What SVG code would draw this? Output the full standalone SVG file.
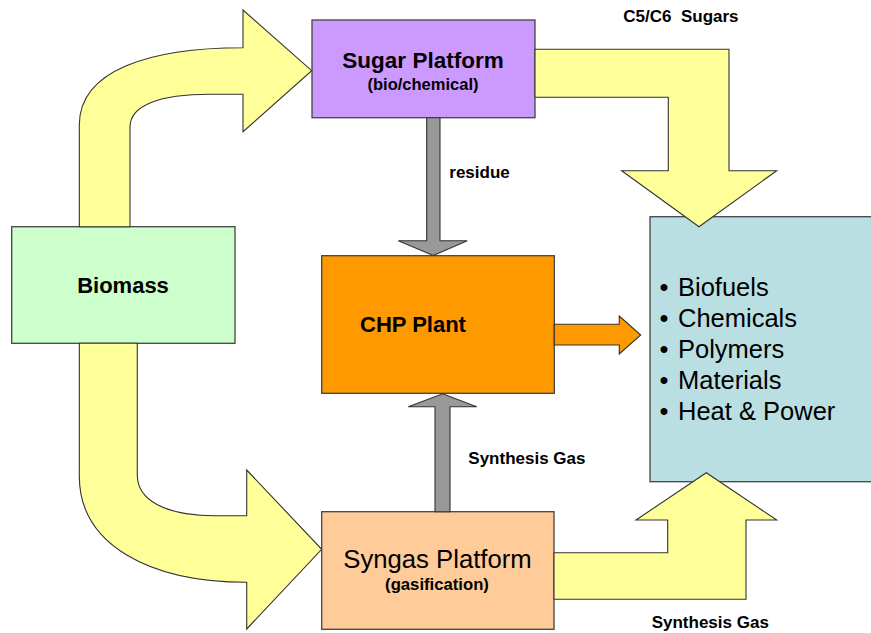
<svg xmlns="http://www.w3.org/2000/svg" width="871" height="633" viewBox="0 0 871 633">
  <style>
    .box { stroke: #444; stroke-width: 1.3; }
    .flow { fill: #FFFF99; stroke: #333; stroke-width: 1.1; stroke-linejoin: miter; }
    .side { fill: #999999; stroke: #333; stroke-width: 1.1; }
    .heat { fill: #FF9900; stroke: #333; stroke-width: 1.1; }
    text { font-family: "Liberation Sans", Arial, sans-serif; fill: #000; }
    .b { font-weight: bold; }
    .lbl { font-weight: bold; font-size: 17px; }
    .item { font-size: 25.5px; }
  </style>

  <rect width="871" height="633" fill="#FFFFFF"/>

  <!-- process nodes -->
  <g id="biomass">
    <rect class="box" x="11.7" y="226.7" width="223.3" height="116.6" fill="#CCFFCC"/>
    <text class="b" x="123" y="293.3" font-size="22" text-anchor="middle">Biomass</text>
  </g>

  <g id="sugar-platform">
    <rect class="box" x="312" y="20" width="223" height="97.7" fill="#CC99FF"/>
    <text class="b" x="423" y="68" font-size="22.5" text-anchor="middle">Sugar Platform</text>
    <text class="b" x="423" y="90" font-size="16.5" text-anchor="middle">(bio/chemical)</text>
  </g>

  <g id="chp-plant">
    <rect class="box" x="321.7" y="255.7" width="232.6" height="137.6" fill="#FF9900"/>
    <text class="b" x="360" y="332.3" font-size="22">CHP Plant</text>
  </g>

  <g id="syngas-platform">
    <rect class="box" x="321.7" y="511.7" width="232.3" height="117.6" fill="#FFCC99"/>
    <text x="437.5" y="568.3" font-size="25.7" text-anchor="middle">Syngas Platform</text>
    <text class="b" x="437" y="590" font-size="16.7" text-anchor="middle">(gasification)</text>
  </g>

  <g id="products">
    <rect class="box" x="650" y="216.7" width="224" height="265" fill="#BADFE2"/>
    <text class="item" x="659.5" y="295.5">•</text>
    <text class="item" x="678" y="295.5">Biofuels</text>
    <text class="item" x="659.5" y="326.7">•</text>
    <text class="item" x="678" y="326.7">Chemicals</text>
    <text class="item" x="659.5" y="357.7">•</text>
    <text class="item" x="678" y="357.7">Polymers</text>
    <text class="item" x="659.5" y="388.6">•</text>
    <text class="item" x="678" y="388.6">Materials</text>
    <text class="item" x="659.5" y="420">•</text>
    <text class="item" x="678" y="420">Heat &amp; Power</text>
  </g>

  <!-- connectors: block arrows between the nodes -->
  <g id="connectors">
    <!-- biomass to sugar platform -->
    <path class="flow" d="M79.3,226.7 V125 C79.3,70 150,47.7 243,47.7 V10 L311.7,70.7 L243,131.7 V94.3 H210 C160,94.3 130,105 130,127 V226.7 Z"/>
    <!-- biomass to syngas platform -->
    <path class="flow" d="M79.3,343.3 V476 C79.3,545 150,582.3 246.7,582.3 V629 L321.7,549.3 L246.7,470 V515.7 H215 C165,515.7 137.3,500 137.3,475 V343.3 Z"/>
    <!-- sugars to products -->
    <path class="flow" d="M535,49.3 H729 V170.7 H776.7 L699,226.7 L621.7,170.7 H668.3 V97.3 H535 Z"/>
    <!-- synthesis gas to products -->
    <path class="flow" d="M554,552.7 H667.7 V520 H636 L706.3,472.7 L776.7,520 H746 V599.3 H554 Z"/>
    <!-- residue to CHP -->
    <path class="side" d="M426.7,117.7 V240.7 H398.3 L433.3,255.5 L467.3,240.7 H440 V117.7 Z"/>
    <!-- synthesis gas to CHP -->
    <path class="side" d="M435,511.7 V406.7 H408.3 L442.7,393.8 L476.7,406.7 H450 V511.7 Z"/>
    <!-- CHP to products -->
    <path class="heat" d="M554.3,324.3 H619.3 V316 L640.7,335 L619.3,354 V345 H554.3 Z"/>
  </g>

  <!-- flow labels -->
  <text class="lbl" x="623.3" y="21.7" xml:space="preserve">C5/C6  Sugars</text>
  <text class="lbl" x="449.3" y="178.3" font-size="16.5">residue</text>
  <text class="lbl" x="468.3" y="464.3">Synthesis Gas</text>
  <text class="lbl" x="651.7" y="628">Synthesis Gas</text>
</svg>
